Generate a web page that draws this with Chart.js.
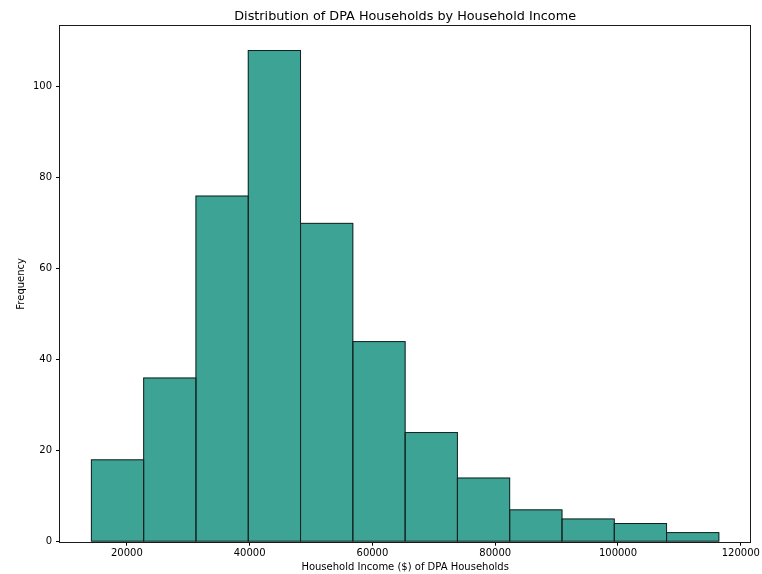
<!DOCTYPE html>
<html>
<head>
<meta charset="utf-8">
<script src="https://cdn.jsdelivr.net/npm/chart.js@4.4.1/dist/chart.umd.min.js"></script>
<style>
  html, body { margin: 0; padding: 0; background: #fff; }
  #wrap { width: 762px; height: 574px; }
</style>
</head>
<body>
<div id="wrap"><canvas id="c" width="762" height="574"></canvas></div>
<script>
// ---- data ----
const binEdges = [14221, 22738, 31255, 39773, 48290, 56807, 65324, 73842, 82359, 90876, 99393, 107911, 116429];
const counts   = [18, 36, 76, 108, 70, 44, 24, 14, 7, 5, 4, 2];
const xTicks   = [20000, 40000, 60000, 80000, 100000, 120000];
const yTicks   = [0, 20, 40, 60, 80, 100];
const titleText = 'Distribution of DPA Households by Household Income';
const xLabel    = 'Household Income ($) of DPA Households';
const yLabel    = 'Frequency';

// ---- derived ----
const centers = counts.map((_, i) => (binEdges[i] + binEdges[i + 1]) / 2);
const points = counts.map((c, i) => ({ x: centers[i], y: c }));
const span = binEdges[binEdges.length - 1] - binEdges[0];
const xMin = binEdges[0] - 0.05 * span;
const xMax = binEdges[binEdges.length - 1] + 0.05 * span;
const yMax = Math.max(...counts) * 1.05;

const FONT = "'DejaVu Sans', 'Liberation Sans', sans-serif";
const EDGE = '#15211f';

const framePlugin = {
  id: 'frame',
  afterLayout(chart) {
    const t = chart.titleBlock;
    if (t) {
      t.left = chart.chartArea.left;
      t.right = chart.chartArea.right;
      t.width = t.right - t.left;
    }
  },
  afterDatasetsDraw(chart) {
    const { ctx, chartArea: a } = chart;
    ctx.save();
    // bar outlines, centred on each bar's edges (like matplotlib edgecolor)
    ctx.strokeStyle = EDGE;
    ctx.lineWidth = 1;
    chart.getDatasetMeta(0).data.forEach((el) => {
      const p = el.getProps(['x', 'y', 'base', 'width'], true);
      ctx.strokeRect(p.x - p.width / 2, p.y, p.width, p.base - p.y);
    });
    // axes box
    ctx.strokeStyle = '#1a1a1a';
    ctx.strokeRect(Math.round(a.left) - 0.5, Math.round(a.top) - 0.5,
                   Math.round(a.right) - Math.round(a.left) + 1,
                   Math.round(a.bottom) - Math.round(a.top) + 1);
    ctx.restore();
  }
};

new Chart(document.getElementById('c'), {
  type: 'bar',
  data: {
    datasets: [{
      data: points,
      backgroundColor: '#3ca395',
      borderWidth: 0,
      barPercentage: 1.0,
      categoryPercentage: 1.0
    }]
  },
  options: {
    responsive: false,
    animation: false,
    devicePixelRatio: 1,
    layout: { padding: { left: 0, right: 9.3, top: 0, bottom: 0 } },
    plugins: {
      legend: { display: false },
      tooltip: { enabled: false },
      title: {
        display: true,
        text: titleText,
        color: '#000',
        font: { family: FONT, size: 12.8, weight: 'normal', lineHeight: 1.2 },
        padding: { top: 8.6, bottom: 2.0 }
      }
    },
    scales: {
      x: {
        type: 'linear',
        min: xMin,
        max: xMax,
        offset: false,
        afterBuildTicks: (s) => { s.ticks = xTicks.map(v => ({ value: v })); },
        afterFit: (s) => { s.height = 32.3; },
        ticks: {
          color: '#000',
          font: { family: FONT, size: 10 },
          padding: 2,
          maxRotation: 0,
          autoSkip: false,
          callback: (v) => String(v)
        },
        grid: {
          display: true,
          offset: false,
          drawOnChartArea: false,
          drawTicks: true,
          tickLength: 4,
          color: '#000'
        },
        border: { display: false },
        title: {
          display: true,
          text: xLabel,
          color: '#000',
          font: { family: FONT, size: 10, lineHeight: 1.2 },
          padding: { top: 0, bottom: 0.5 }
        }
      },
      y: {
        type: 'linear',
        min: 0,
        max: yMax,
        afterBuildTicks: (s) => { s.ticks = yTicks.map(v => ({ value: v })); },
        afterFit: (s) => { s.width = 60; },
        ticks: {
          color: '#000',
          font: { family: FONT, size: 10 },
          padding: 4,
          autoSkip: false,
          callback: (v) => String(v)
        },
        grid: {
          display: true,
          drawOnChartArea: false,
          drawTicks: true,
          tickLength: 4,
          color: '#000'
        },
        border: { display: false },
        title: {
          display: true,
          text: yLabel,
          color: '#000',
          font: { family: FONT, size: 10, lineHeight: 1.2 },
          padding: { top: 15.7, bottom: 0 }
        }
      }
    }
  },
  plugins: [framePlugin]
});
</script>
</body>
</html>
